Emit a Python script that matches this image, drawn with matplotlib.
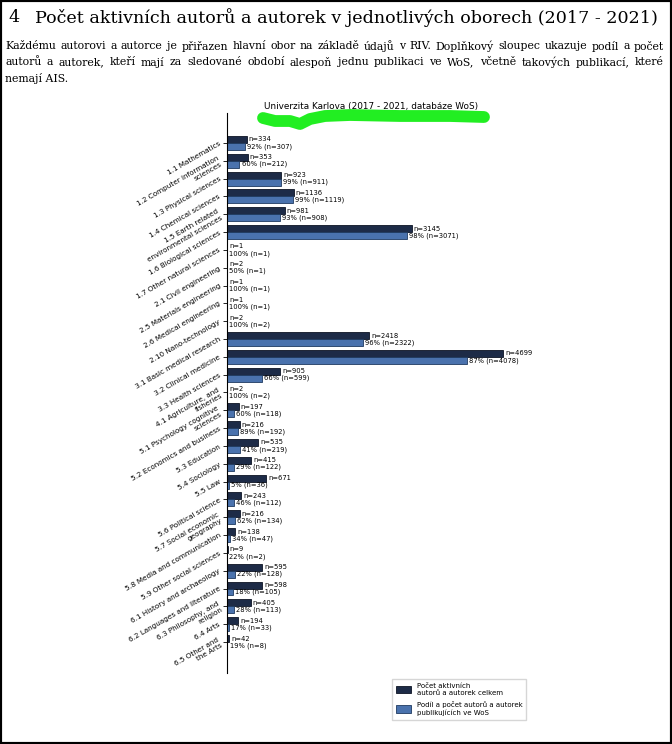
import matplotlib
matplotlib.use("Agg")
import matplotlib.pyplot as plt
from matplotlib.lines import Line2D
from matplotlib.patches import Rectangle, Patch

# Data
obory = [
    "1.1 Mathematics",
    "1.2 Computer information\nsciences",
    "1.3 Physical sciences",
    "1.4 Chemical sciences",
    "1.5 Earth related\nenvironmental sciences",
    "1.6 Biological sciences",
    "1.7 Other natural sciences",
    "2.1 Civil engineering",
    "2.5 Materials engineering",
    "2.6 Medical engineering",
    "2.10 Nano-technology",
    "3.1 Basic medical research",
    "3.2 Clinical medicine",
    "3.3 Health sciences",
    "4.1 Agriculture, and\nfisheries",
    "5.1 Psychology cognitive\nsciences",
    "5.2 Economics and business",
    "5.3 Education",
    "5.4 Sociology",
    "5.5 Law",
    "5.6 Political science",
    "5.7 Social economic\ngeography",
    "5.8 Media and communication",
    "5.9 Other social sciences",
    "6.1 History and archaeology",
    "6.2 Languages and literature",
    "6.3 Philosophy, and\nreligion",
    "6.4 Arts",
    "6.5 Other and\nthe Arts",
]
celkem = [334, 353, 923, 1136, 981, 3145, 1, 2, 1, 1, 2, 2418, 4699, 905, 2,
          197, 216, 535, 415, 671, 243, 216, 138, 9, 595, 598, 405, 194, 42]
wos = [307, 212, 911, 1119, 908, 3071, 1, 1, 1, 1, 2, 2322, 4078, 599, 2,
       118, 192, 219, 122, 36, 112, 134, 47, 2, 128, 105, 113, 33, 8]

nadpis_cislo = "4"
nadpis = "Počet aktivních autorů a autorek v jednotlivých oborech (2017 - 2021)"
odstavec = [
    "Každému autorovi a autorce je přiřazen hlavní obor na základě údajů v RIV. Doplňkový sloupec ukazuje podíl a počet",
    "autorů a autorek, kteří mají za sledované období alespoň jednu publikaci ve WoS, včetně takových publikací, které",
    "nemají AIS.",
]
titulek_grafu = "Univerzita Karlova (2017 - 2021, databáze WoS)"
legenda = ["Počet aktivních\nautorů a autorek celkem",
           "Podíl a počet autorů a autorek\npublikujících ve WoS"]

W, H = 672, 744
TMAVA = "#1d2b47"
SVETLA = "#4a72ad"
SERIF = "DejaVu Serif"

fig = plt.figure(figsize=(W / 100, H / 100), dpi=100)
renderer = fig.canvas.get_renderer()


def fx(px):
    return px / W


def fy(py):
    return 1 - py / H


def fit_size(s, width, size, **kw):
    t = fig.text(0, 0, s, fontsize=size, **kw)
    w = t.get_window_extent(renderer).width
    t.remove()
    return size * width / w


def justify(x0, x1, y, s, size, **kw):
    words = s.split()
    widths = []
    texts = []
    for wd in words:
        t = fig.text(0, fy(y), wd, fontsize=size, va="center", ha="left", **kw)
        texts.append(t)
        widths.append(t.get_window_extent(renderer).width)
    gap = (x1 - x0 - sum(widths)) / (len(words) - 1)
    x = x0
    for t, w in zip(texts, widths):
        t.set_x(fx(x))
        x += w + gap


# Page heading and paragraph
hsize = fit_size(nadpis, 625, 14, family=SERIF)
fig.text(fx(8), fy(18), nadpis_cislo, fontsize=hsize, family=SERIF,
         va="center", ha="left")
fig.text(fx(35), fy(18), nadpis, fontsize=hsize, family=SERIF,
         va="center", ha="left")
psize = fit_size(odstavec[0], 648, 9, family=SERIF)
justify(5, 664, 46, odstavec[0], psize, family=SERIF)
justify(5, 664, 62, odstavec[1], psize, family=SERIF)
fig.text(fx(5), fy(78), odstavec[2], fontsize=psize, family=SERIF,
         va="center", ha="left")

# Chart
ax = fig.add_axes([fx(227), fy(673), fx(527) - fx(227), fy(113) - fy(673)])
n = len(obory)
y = list(range(n))
h = 0.39
ax.barh([i - h / 2 for i in y], celkem, height=h, color=TMAVA,
        edgecolor="#0d1424", linewidth=0.6)
ax.barh([i + h / 2 for i in y], wos, height=h, color=SVETLA,
        edgecolor="#1f3a60", linewidth=0.6)

for i in y:
    ax.annotate(f"n={celkem[i]}", (celkem[i], i - h / 2), xytext=(1.5, 0),
                textcoords="offset points", va="center", ha="left", fontsize=4.9)
    pct = round(wos[i] / celkem[i] * 100)
    ax.annotate(f"{pct}% (n={wos[i]})", (wos[i], i + h / 2), xytext=(1.5, 0),
                textcoords="offset points", va="center", ha="left", fontsize=4.9)

ax.set_xlim(0, 5107)
ax.set_ylim(n - 1 + 1.74, -1.68)
ax.set_yticks(y)
ax.set_yticklabels(obory, rotation=30, ha="right", va="center",
                   rotation_mode="anchor", fontsize=5.2, multialignment="right")
ax.tick_params(axis="y", length=3, width=0.6, pad=2)
ax.set_xticks([])
for s in ["top", "right", "bottom"]:
    ax.spines[s].set_visible(False)
ax.spines["left"].set_linewidth(0.8)
ax.set_title(titulek_grafu, fontsize=6.4, pad=3, x=0.48)

# Green redaction scribble over the chart subtitle
sx = [263, 275, 290, 300, 310, 325, 350, 400, 450, 484]
sy = [118, 121, 121, 124, 119, 116, 115, 116, 116, 117]
fig.add_artist(Line2D([fx(v) for v in sx], [fy(v) for v in sy], color="#22ee22",
                      lw=8.5, solid_capstyle="round", solid_joinstyle="round"))

handles = [Patch(facecolor=TMAVA, edgecolor="#0d1424", linewidth=0.6),
           Patch(facecolor=SVETLA, edgecolor="#1f3a60", linewidth=0.6)]
fig.legend(handles, legenda, loc="upper left", bbox_to_anchor=(fx(389), fy(676)),
           fontsize=5.0, frameon=True, fancybox=False, edgecolor="#cccccc",
           handlelength=2.2, handleheight=1.2, borderpad=0.5, labelspacing=0.8)

# Page border
fig.add_artist(Rectangle((0, 0), 1, 1, transform=fig.transFigure, fill=False,
                         edgecolor="black", linewidth=3))

fig.savefig("out.png", dpi=100)
